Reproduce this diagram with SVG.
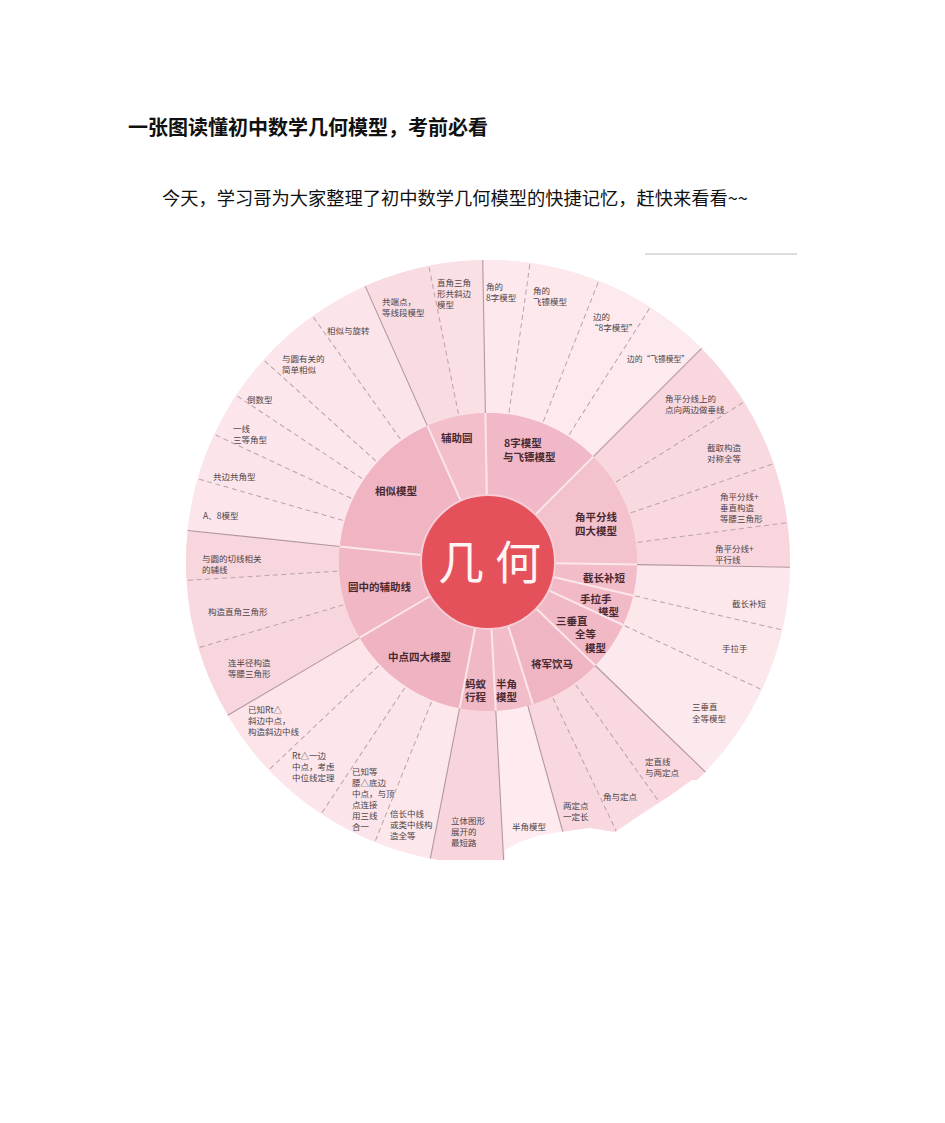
<svg xmlns="http://www.w3.org/2000/svg" width="945" height="1123" viewBox="0 0 945 1123">
<style>
.title{font-family:"Noto Sans CJK SC","Noto Sans",sans-serif;font-size:20px;font-weight:700;fill:#111}
.sub{font-family:"Noto Sans CJK SC","Noto Sans",sans-serif;font-size:18px;fill:#111}
.o{font-family:"Noto Sans CJK SC","Noto Sans",sans-serif;font-size:8.5px;fill:#4d4448}
.m{font-family:"Noto Sans CJK SC","Noto Sans",sans-serif;font-size:10.5px;font-weight:700;fill:#4a2a32}
.big{font-family:"Noto Sans CJK SC","Noto Sans",sans-serif;font-size:46px;fill:#fff4f4;text-anchor:middle}
.r2{fill:none;stroke-width:153}
.r1{fill:none;stroke-width:82}
.sol{stroke:#b3979e;stroke-width:1.1}
.dsh{stroke:#b8a3a8;stroke-width:1;stroke-dasharray:5 3.5}
.wl{stroke:#fbe6eb;stroke-width:2}
</style>
<defs>
<clipPath id="pic"><rect x="180" y="250" width="620" height="610"/></clipPath>
</defs>
<rect width="945" height="1123" fill="#fff"/>
<text class="title" x="128" y="135" textLength="360" lengthAdjust="spacingAndGlyphs">一张图读懂初中数学几何模型，考前必看</text>
<text class="sub" x="162" y="205" textLength="586" lengthAdjust="spacingAndGlyphs">今天，学习哥为大家整理了初中数学几何模型的快捷记忆，赶快来看看~~</text>
<line x1="645" y1="254" x2="797" y2="254" stroke="#d2d2d2" stroke-width="1.5"/>
<g clip-path="url(#pic)">
<circle cx="488" cy="562" r="302" fill="#fbe3e8"/>
<g id="outer-sectors">
<g id="o01"><circle cx="488" cy="562" r="225.5" class="r2" stroke="#f9dbe2" stroke-dasharray="50.3 2000" transform="rotate(-114 488 562)"/><text class="o"><tspan x="382" y="305">共端点，</tspan><tspan x="382" y="316">等线段模型</tspan></text></g>
<g id="o02"><circle cx="488" cy="562" r="225.5" class="r2" stroke="#fadfe5" stroke-dasharray="40.9 2000" transform="rotate(-101.3 488 562)"/><text class="o"><tspan x="437" y="286">直角三角</tspan><tspan x="437" y="297">形共斜边</tspan><tspan x="437" y="308">模型</tspan></text></g>
<g id="o03"><circle cx="488" cy="562" r="225.5" class="r2" stroke="#fde9ed" stroke-dasharray="35.8 2000" transform="rotate(-91 488 562)"/><text class="o"><tspan x="486" y="289.5">角的</tspan><tspan x="486" y="300.5">8字模型</tspan></text></g>
<g id="o04"><circle cx="488" cy="562" r="225.5" class="r2" stroke="#fde8ec" stroke-dasharray="53.5 2000" transform="rotate(-82 488 562)"/><text class="o"><tspan x="533" y="293.5">角的</tspan><tspan x="533" y="304.5">飞镖模型</tspan></text></g>
<g id="o05"><circle cx="488" cy="562" r="225.5" class="r2" stroke="#fde9ee" stroke-dasharray="43.6 2000" transform="rotate(-68.5 488 562)"/><text class="o"><tspan x="593" y="320">边的</tspan><tspan x="590" y="331">“8字模型”</tspan></text></g>
<g id="o06"><circle cx="488" cy="562" r="225.5" class="r2" stroke="#fdeaee" stroke-dasharray="49.6 2000" transform="rotate(-57.5 488 562)"/><text class="o" x="627" y="362" textLength="62" lengthAdjust="spacingAndGlyphs">边的“飞镖模型”</text></g>
<g id="o07"><circle cx="488" cy="562" r="225.5" class="r2" stroke="#f9d7df" stroke-dasharray="51.5 2000" transform="rotate(-45 488 562)"/><text class="o"><tspan x="665" y="402">角平分线上的</tspan><tspan x="665" y="413">点向两边做垂线</tspan></text></g>
<g id="o08"><circle cx="488" cy="562" r="225.5" class="r2" stroke="#f9d9e0" stroke-dasharray="51.5 2000" transform="rotate(-32 488 562)"/><text class="o"><tspan x="707" y="451">截取构造</tspan><tspan x="707" y="462">对称全等</tspan></text></g>
<g id="o09"><circle cx="488" cy="562" r="225.5" class="r2" stroke="#f9d8df" stroke-dasharray="45.6 2000" transform="rotate(-19 488 562)"/><text class="o"><tspan x="720" y="500">角平分线+</tspan><tspan x="720" y="511">垂直构造</tspan><tspan x="720" y="522">等腰三角形</tspan></text></g>
<g id="o10"><circle cx="488" cy="562" r="225.5" class="r2" stroke="#f9d6de" stroke-dasharray="33.9 2000" transform="rotate(-7.5 488 562)"/><text class="o"><tspan x="715" y="551.5">角平分线+</tspan><tspan x="715" y="562.5">平行线</tspan></text></g>
<g id="o11"><circle cx="488" cy="562" r="225.5" class="r2" stroke="#fce8ec" stroke-dasharray="47.6 2000" transform="rotate(1 488 562)"/><text class="o" x="732" y="607">截长补短</text></g>
<g id="o12"><circle cx="488" cy="562" r="225.5" class="r2" stroke="#fce7eb" stroke-dasharray="47.6 2000" transform="rotate(13 488 562)"/><text class="o" x="722" y="652">手拉手</text></g>
<g id="o13"><circle cx="488" cy="562" r="225.5" class="r2" stroke="#fce9ed" stroke-dasharray="75.2 2000" transform="rotate(25 488 562)"/><text class="o"><tspan x="692" y="710">三垂直</tspan><tspan x="692" y="722">全等模型</tspan></text></g>
<g id="o14"><circle cx="488" cy="562" r="225.5" class="r2" stroke="#f9d8df" stroke-dasharray="41.7 2000" transform="rotate(44 488 562)"/><text class="o"><tspan x="645" y="765">定直线</tspan><tspan x="645" y="776">与两定点</tspan></text></g>
<g id="o15"><circle cx="488" cy="562" r="225.5" class="r2" stroke="#f9dae1" stroke-dasharray="39.7 2000" transform="rotate(54.5 488 562)"/><text class="o" x="603" y="800">角与定点</text></g>
<g id="o16"><circle cx="488" cy="562" r="225.5" class="r2" stroke="#f8d7de" stroke-dasharray="39.7 2000" transform="rotate(64.5 488 562)"/><text class="o"><tspan x="563" y="808.5">两定点</tspan><tspan x="563" y="819.5">一定长</tspan></text></g>
<g id="o17"><circle cx="488" cy="562" r="225.5" class="r2" stroke="#fdebef" stroke-dasharray="49.6 2000" transform="rotate(74.5 488 562)"/><text class="o" x="512" y="830">半角模型</text></g>
<g id="o18"><circle cx="488" cy="562" r="225.5" class="r2" stroke="#f8d5dd" stroke-dasharray="55.5 2000" transform="rotate(87 488 562)"/><text class="o"><tspan x="451" y="824">立体图形</tspan><tspan x="451" y="835">展开的</tspan><tspan x="451" y="846">最短路</tspan></text></g>
<g id="o19"><circle cx="488" cy="562" r="225.5" class="r2" stroke="#fce7eb" stroke-dasharray="43.6 2000" transform="rotate(101 488 562)"/><text class="o"><tspan x="390" y="817">倍长中线</tspan><tspan x="390" y="828">或类中线构</tspan><tspan x="390" y="839">造全等</tspan></text></g>
<g id="o20"><circle cx="488" cy="562" r="225.5" class="r2" stroke="#fce5ea" stroke-dasharray="45.6 2000" transform="rotate(112 488 562)"/><text class="o"><tspan x="352" y="775">已知等</tspan><tspan x="352" y="786">腰△底边</tspan><tspan x="352" y="797">中点，与顶</tspan><tspan x="352" y="808">点连接</tspan><tspan x="352" y="819">用三线</tspan><tspan x="352" y="830">合一</tspan></text></g>
<g id="o21"><circle cx="488" cy="562" r="225.5" class="r2" stroke="#fce6eb" stroke-dasharray="51.5 2000" transform="rotate(123.5 488 562)"/><text class="o"><tspan x="292" y="758.5">Rt△一边</tspan><tspan x="292" y="769.5">中点，考虑</tspan><tspan x="292" y="780.5">中位线定理</tspan></text></g>
<g id="o22"><circle cx="488" cy="562" r="225.5" class="r2" stroke="#fce4e9" stroke-dasharray="51.5 2000" transform="rotate(136.5 488 562)"/><text class="o"><tspan x="248" y="713">已知Rt△</tspan><tspan x="248" y="724">斜边中点，</tspan><tspan x="248" y="735">构造斜边中线</tspan></text></g>
<g id="o23"><circle cx="488" cy="562" r="225.5" class="r2" stroke="#f8d6de" stroke-dasharray="55.5 2000" transform="rotate(149.5 488 562)"/><text class="o"><tspan x="228" y="666">连半径构造</tspan><tspan x="228" y="677">等腰三角形</tspan></text></g>
<g id="o24"><circle cx="488" cy="562" r="225.5" class="r2" stroke="#f9d9e0" stroke-dasharray="51.5 2000" transform="rotate(163.5 488 562)"/><text class="o" x="208" y="615">构造直角三角形</text></g>
<g id="o25"><circle cx="488" cy="562" r="225.5" class="r2" stroke="#f8d6dd" stroke-dasharray="37.7 2000" transform="rotate(176.5 488 562)"/><text class="o"><tspan x="202" y="562">与圆的切线相关</tspan><tspan x="202" y="573">的辅线</tspan></text></g>
<g id="o26"><circle cx="488" cy="562" r="225.5" class="r2" stroke="#fce6eb" stroke-dasharray="39.7 2000" transform="rotate(186 488 562)"/><text class="o" x="203" y="519">A、8模型</text></g>
<g id="o27"><circle cx="488" cy="562" r="225.5" class="r2" stroke="#fce5ea" stroke-dasharray="35.8 2000" transform="rotate(196 488 562)"/><text class="o" x="213" y="480">共边共角型</text></g>
<g id="o28"><circle cx="488" cy="562" r="225.5" class="r2" stroke="#fce6eb" stroke-dasharray="33.8 2000" transform="rotate(205 488 562)"/><text class="o"><tspan x="233" y="431.5">一线</tspan><tspan x="233" y="442.5">三等角型</tspan></text></g>
<g id="o29"><circle cx="488" cy="562" r="225.5" class="r2" stroke="#fce7ec" stroke-dasharray="33.8 2000" transform="rotate(213.5 488 562)"/><text class="o" x="247" y="403">倒数型</text></g>
<g id="o30"><circle cx="488" cy="562" r="225.5" class="r2" stroke="#fce6eb" stroke-dasharray="49.6 2000" transform="rotate(222 488 562)"/><text class="o"><tspan x="282" y="361.5">与圆有关的</tspan><tspan x="282" y="372.5">简单相似</tspan></text></g>
<g id="o31"><circle cx="488" cy="562" r="225.5" class="r2" stroke="#fce5ea" stroke-dasharray="45.6 2000" transform="rotate(234.5 488 562)"/><text class="o" x="327" y="333.5">相似与旋转</text></g>
</g>
<circle cx="488" cy="562" r="149" fill="#f1b8c6"/>
<g id="middle-sectors">
<g id="m01"><circle cx="488" cy="562" r="108" class="r1" stroke="#f2bfcb" stroke-dasharray="43.6 2000" transform="rotate(-114 488 562)"/><text class="m" x="441" y="442">辅助圆</text></g>
<g id="m02"><circle cx="488" cy="562" r="108" class="r1" stroke="#f1b9c7" stroke-dasharray="87 2000" transform="rotate(-91 488 562)"/><text class="m"><tspan x="504" y="447">8字模型</tspan><tspan x="503" y="460.5">与飞镖模型</tspan></text></g>
<g id="m03"><circle cx="488" cy="562" r="108" class="r1" stroke="#f3c2cd" stroke-dasharray="87.1 2000" transform="rotate(-45 488 562)"/><text class="m"><tspan x="575" y="521">角平分线</tspan><tspan x="575" y="535">四大模型</tspan></text></g>
<g id="m04"><circle cx="488" cy="562" r="108" class="r1" stroke="#f2bcc8" stroke-dasharray="23 2000" transform="rotate(1 488 562)"/><text class="m" x="583" y="582">截长补短</text></g>
<g id="m05"><circle cx="488" cy="562" r="108" class="r1" stroke="#f2bac7" stroke-dasharray="23 2000" transform="rotate(13 488 562)"/><text class="m"><tspan x="580" y="602.5">手拉手</tspan><tspan x="598" y="616">模型</tspan></text></g>
<g id="m06"><circle cx="488" cy="562" r="108" class="r1" stroke="#f1b8c5" stroke-dasharray="36.2 2000" transform="rotate(25 488 562)"/><text class="m"><tspan x="556" y="624.5">三垂直</tspan><tspan x="575" y="638">全等</tspan><tspan x="585" y="651.5">模型</tspan></text></g>
<g id="m07"><circle cx="488" cy="562" r="108" class="r1" stroke="#f0b5c3" stroke-dasharray="54 2000" transform="rotate(44 488 562)"/><text class="m" x="531" y="668">将军饮马</text></g>
<g id="m08"><circle cx="488" cy="562" r="108" class="r1" stroke="#f2bdc9" stroke-dasharray="27.6 2000" transform="rotate(72.5 488 562)"/><text class="m"><tspan x="496" y="687.5">半角</tspan><tspan x="496" y="701">模型</tspan></text></g>
<g id="m09"><circle cx="488" cy="562" r="108" class="r1" stroke="#f1b9c6" stroke-dasharray="26.7 2000" transform="rotate(87 488 562)"/><text class="m"><tspan x="465" y="687.5">蚂蚁</tspan><tspan x="465" y="701">行程</tspan></text></g>
<g id="m10"><circle cx="488" cy="562" r="108" class="r1" stroke="#f0b3c1" stroke-dasharray="91.7 2000" transform="rotate(101 488 562)"/><text class="m" x="388" y="661">中点四大模型</text></g>
<g id="m11"><circle cx="488" cy="562" r="108" class="r1" stroke="#f1b7c5" stroke-dasharray="69.1 2000" transform="rotate(149.5 488 562)"/><text class="m" x="348" y="591">圆中的辅助线</text></g>
<g id="m12"><circle cx="488" cy="562" r="108" class="r1" stroke="#f0b4c2" stroke-dasharray="113.4 2000" transform="rotate(186 488 562)"/><text class="m" x="375" y="495">相似模型</text></g>
</g>
<g id="connectors">
<g class="sol">
<line x1="488" y1="413" x2="488" y2="260" transform="rotate(-24 488 562)"/>
<line x1="488" y1="413" x2="488" y2="260" transform="rotate(-1 488 562)"/>
<line x1="488" y1="413" x2="488" y2="260" transform="rotate(45 488 562)"/>
<line x1="488" y1="413" x2="488" y2="260" transform="rotate(91 488 562)"/>
<line x1="488" y1="413" x2="488" y2="260" transform="rotate(134 488 562)"/>
<line x1="488" y1="413" x2="488" y2="260" transform="rotate(164.5 488 562)"/>
<line x1="488" y1="413" x2="488" y2="260" transform="rotate(177 488 562)"/>
<line x1="488" y1="413" x2="488" y2="260" transform="rotate(191 488 562)"/>
<line x1="488" y1="413" x2="488" y2="260" transform="rotate(239.5 488 562)"/>
<line x1="488" y1="413" x2="488" y2="260" transform="rotate(276 488 562)"/>
</g>
<g class="dsh">
<line x1="488" y1="411" x2="488" y2="260" transform="rotate(-11.3 488 562)"/>
<line x1="488" y1="411" x2="488" y2="260" transform="rotate(8 488 562)"/>
<line x1="488" y1="411" x2="488" y2="260" transform="rotate(21.5 488 562)"/>
<line x1="488" y1="411" x2="488" y2="260" transform="rotate(32.5 488 562)"/>
<line x1="488" y1="411" x2="488" y2="260" transform="rotate(58 488 562)"/>
<line x1="488" y1="411" x2="488" y2="260" transform="rotate(71 488 562)"/>
<line x1="488" y1="411" x2="488" y2="260" transform="rotate(82.5 488 562)"/>
<line x1="488" y1="411" x2="488" y2="260" transform="rotate(103 488 562)"/>
<line x1="488" y1="411" x2="488" y2="260" transform="rotate(115 488 562)"/>
<line x1="488" y1="411" x2="488" y2="260" transform="rotate(144.5 488 562)"/>
<line x1="488" y1="411" x2="488" y2="260" transform="rotate(154.5 488 562)"/>
<line x1="488" y1="411" x2="488" y2="260" transform="rotate(202 488 562)"/>
<line x1="488" y1="411" x2="488" y2="260" transform="rotate(213.5 488 562)"/>
<line x1="488" y1="411" x2="488" y2="260" transform="rotate(226.5 488 562)"/>
<line x1="488" y1="411" x2="488" y2="260" transform="rotate(253.5 488 562)"/>
<line x1="488" y1="411" x2="488" y2="260" transform="rotate(266.5 488 562)"/>
<line x1="488" y1="411" x2="488" y2="260" transform="rotate(286 488 562)"/>
<line x1="488" y1="411" x2="488" y2="260" transform="rotate(295 488 562)"/>
<line x1="488" y1="411" x2="488" y2="260" transform="rotate(303.5 488 562)"/>
<line x1="488" y1="411" x2="488" y2="260" transform="rotate(312 488 562)"/>
<line x1="488" y1="411" x2="488" y2="260" transform="rotate(324.5 488 562)"/>
</g>
<g class="wl">
<line x1="488" y1="495" x2="488" y2="413" transform="rotate(-24 488 562)"/>
<line x1="488" y1="495" x2="488" y2="413" transform="rotate(-1 488 562)"/>
<line x1="488" y1="495" x2="488" y2="413" transform="rotate(45 488 562)"/>
<line x1="488" y1="495" x2="488" y2="413" transform="rotate(91 488 562)"/>
<line x1="488" y1="495" x2="488" y2="413" transform="rotate(103 488 562)"/>
<line x1="488" y1="495" x2="488" y2="413" transform="rotate(115 488 562)"/>
<line x1="488" y1="495" x2="488" y2="413" transform="rotate(134 488 562)"/>
<line x1="488" y1="495" x2="488" y2="413" transform="rotate(162.5 488 562)"/>
<line x1="488" y1="495" x2="488" y2="413" transform="rotate(177 488 562)"/>
<line x1="488" y1="495" x2="488" y2="413" transform="rotate(191 488 562)"/>
<line x1="488" y1="495" x2="488" y2="413" transform="rotate(239.5 488 562)"/>
<line x1="488" y1="495" x2="488" y2="413" transform="rotate(276 488 562)"/>
</g>
</g>
<g id="center">
<circle cx="488" cy="562" r="67" fill="#e4515b" stroke="#f6cdd6" stroke-width="2"/>
<text class="big"><tspan x="461" y="579">几</tspan><tspan x="518" y="579">何</tspan></text>
</g>
<polygon points="505,862 505,850 520,842 537,836 560,832 590,828 615,832 640,815 668,797 692,780 800,780 800,862" fill="#fff"/>
</g>
</svg>
